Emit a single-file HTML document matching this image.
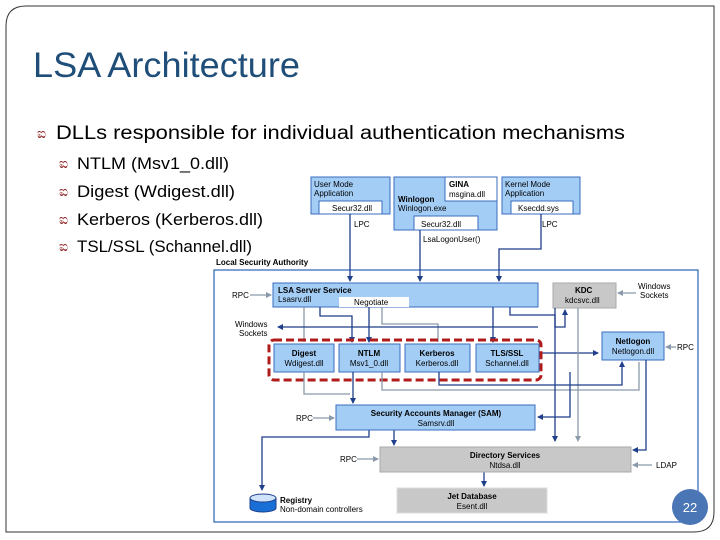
<!DOCTYPE html>
<html><head><meta charset="utf-8"><style>
html,body{margin:0;padding:0;background:#fff;}
body{width:720px;height:540px;overflow:hidden;position:relative;font-family:"Liberation Sans",sans-serif;}
</style></head><body>
<svg width="720" height="540" style="position:absolute;left:0;top:0" font-family="Liberation Sans, sans-serif">
<defs>
<marker id="ad" markerWidth="6" markerHeight="6" refX="5" refY="3" orient="auto" markerUnits="userSpaceOnUse"><path d="M0,0 L6,3 L0,6z" fill="#1f3f8a"/></marker>
<marker id="ag" markerWidth="6" markerHeight="6" refX="5" refY="3" orient="auto" markerUnits="userSpaceOnUse"><path d="M0,0 L6,3 L0,6z" fill="#8a9aaa"/></marker>
</defs>
<path d="M26,6 H714 V512 Q714,532 694,532 H6 V26 Q6,6 26,6Z" fill="none" stroke="#333" stroke-width="1"/>
<text x="33" y="77" font-size="35" fill="#1f4e79" textLength="267" lengthAdjust="spacingAndGlyphs">LSA Architecture</text>
<text x="56" y="139" font-size="19" fill="#000" textLength="569" lengthAdjust="spacingAndGlyphs">DLLs responsible for individual authentication mechanisms</text>
<g font-size="16.5" fill="#000">
<text x="77" y="169" textLength="152" lengthAdjust="spacingAndGlyphs">NTLM (Msv1_0.dll)</text>
<text x="77" y="197" textLength="158" lengthAdjust="spacingAndGlyphs">Digest (Wdigest.dll)</text>
<text x="77" y="225" textLength="186" lengthAdjust="spacingAndGlyphs">Kerberos (Kerberos.dll)</text>
<text x="77" y="252" textLength="175" lengthAdjust="spacingAndGlyphs">TSL/SSL (Schannel.dll)</text>
</g>
<g font-size="14" fill="#8b2020">
<text x="37" y="138">ಐ</text><text x="59" y="168">ಐ</text><text x="59" y="196">ಐ</text><text x="59" y="224">ಐ</text><text x="59" y="251">ಐ</text>
</g>
<g stroke="#3a6ebf" stroke-width="1" fill="#a3cdf5">
<rect x="311" y="177" width="79" height="37"/>
<rect x="394" y="177" width="103" height="53"/>
<rect x="502" y="177" width="78" height="37"/>
</g>
<g fill="#fff" stroke="#3a6ebf">
<rect x="319" y="201" width="63" height="13"/>
<rect x="445" y="177" width="52" height="24"/>
<rect x="414" y="216" width="64" height="14"/>
<rect x="511" y="201" width="62" height="13"/>
</g>
<g font-size="8" fill="#000">
<text x="314" y="187">User Mode</text><text x="314" y="196">Application</text>
<text x="332" y="211">Secur32.dll</text>
<text x="449" y="187" font-weight="bold">GINA</text><text x="449" y="197">msgina.dll</text>
<text x="398" y="202" font-weight="bold">Winlogon</text><text x="398" y="211">Winlogon.exe</text>
<text x="421" y="227">Secur32.dll</text>
<text x="505" y="187">Kernel Mode</text><text x="505" y="196">Application</text>
<text x="518" y="211">Ksecdd.sys</text>
<text x="354" y="227">LPC</text><text x="542" y="227">LPC</text>
<text x="423" y="242">LsaLogonUser()</text>
<text x="216" y="265" font-weight="bold">Local Security Authority</text>
</g>
<rect x="214" y="270" width="484" height="252" fill="none" stroke="#3a6ebf" stroke-width="1.3"/>
<g stroke="#1f3f8a" stroke-width="1.3" fill="none">
<path d="M350,214 V281" marker-end="url(#ad)"/>
<path d="M420,230 V281" marker-end="url(#ad)"/>
<path d="M541,214 V249 H499 V281" marker-end="url(#ad)"/>
</g>
<rect x="273" y="283" width="265" height="24" fill="#a3cdf5" stroke="#3a6ebf"/>
<rect x="339" y="297" width="70" height="10" fill="#fff"/>
<rect x="553" y="283" width="63" height="25" fill="#c8c8c8" stroke="#aaa"/>
<g font-size="8" fill="#000">
<text x="278" y="293" font-weight="bold">LSA Server Service</text>
<text x="278" y="302">Lsasrv.dll</text>
<text x="354" y="305">Negotiate</text>
<text x="575" y="293" font-weight="bold">KDC</text>
<text x="565" y="303">kdcsvc.dll</text>
<text x="638" y="289">Windows</text><text x="640" y="298">Sockets</text>
<text x="232" y="298">RPC</text>
<text x="235" y="327">Windows</text><text x="239" y="336">Sockets</text>
</g>
<g stroke="#8a9aaa" stroke-width="1.3" fill="none">
<path d="M250,295 H271" marker-end="url(#ag)"/>
<path d="M636,293 H618" marker-end="url(#ag)"/>
<path d="M304,307 V342"/>
<path d="M382,307 V324 H438 V342"/>
</g>
<g stroke="#1f3f8a" stroke-width="1.3" fill="none">
<path d="M538,327 H278" marker-end="url(#ad)"/>
<path d="M320,307 V316 H352 V342" marker-end="url(#ad)"/>
<path d="M369,307 V342" marker-end="url(#ad)"/>
<path d="M493,307 V342" marker-end="url(#ad)"/>
<path d="M510,307 V315 H555 V327 H565 V310" marker-end="url(#ad)"/>
<path d="M541,353 H598" marker-end="url(#ad)"/>
</g>
<g fill="#a3cdf5" stroke="#3a6ebf">
<rect x="274" y="344" width="60" height="28"/>
<rect x="339" y="344" width="61" height="28"/>
<rect x="405" y="344" width="65" height="28"/>
<rect x="476" y="344" width="63" height="28"/>
<rect x="602" y="332" width="62" height="28"/>
</g>
<rect x="269" y="340" width="272" height="40" rx="5" fill="none" stroke="#b01c1c" stroke-width="3" stroke-dasharray="8,4"/>
<g font-size="8" fill="#000" text-anchor="middle">
<text x="304" y="356" font-weight="bold">Digest</text><text x="304" y="366">Wdigest.dll</text>
<text x="369" y="356" font-weight="bold">NTLM</text><text x="369" y="366">Msv1_0.dll</text>
<text x="437" y="356" font-weight="bold">Kerberos</text><text x="437" y="366">Kerberos.dll</text>
<text x="507" y="356" font-weight="bold">TLS/SSL</text><text x="507" y="366">Schannel.dll</text>
<text x="633" y="344" font-weight="bold">Netlogon</text><text x="633" y="354">Netlogon.dll</text>
</g>
<text x="677" y="350" font-size="8">RPC</text>
<path d="M676,347 H666" stroke="#8a9aaa" stroke-width="1.3" marker-end="url(#ag)"/>
<g stroke="#8a9aaa" stroke-width="1.3" fill="none">
<path d="M304,372 V394 H350"/>
<path d="M382,372 V390 H639 V362"/>
<path d="M578,308 V441" marker-end="url(#ag)"/>
</g>
<g stroke="#1f3f8a" stroke-width="1.3" fill="none">
<path d="M353,372 V403" marker-end="url(#ad)"/>
<path d="M439,372 V385 H622 V362" marker-end="url(#ad)"/>
<path d="M555,308 V441" marker-end="url(#ad)"/>
<path d="M646,360 V450 H633" marker-end="url(#ad)"/>
<path d="M570,372 V417 H538" marker-end="url(#ad)"/>
<path d="M369,430 V437 H262 V490" marker-end="url(#ad)"/>
<path d="M394,430 V445" marker-end="url(#ad)"/>
<path d="M484,472 V486" marker-end="url(#ad)"/>
</g>
<rect x="336" y="405" width="199" height="25" fill="#a3cdf5" stroke="#3a6ebf"/>
<rect x="380" y="447" width="251" height="25" fill="#c8c8c8" stroke="#aaa"/>
<rect x="397" y="488" width="150" height="25" fill="#c8c8c8" stroke="#ddd"/>
<g font-size="8" fill="#000" text-anchor="middle">
<text x="436" y="416" font-weight="bold">Security Accounts Manager (SAM)</text><text x="436" y="426">Samsrv.dll</text>
<text x="505" y="458" font-weight="bold">Directory Services</text><text x="505" y="468">Ntdsa.dll</text>
<text x="472" y="499" font-weight="bold">Jet Database</text><text x="472" y="509">Esent.dll</text>
</g>
<g font-size="8" fill="#000">
<text x="296" y="421">RPC</text><text x="340" y="462">RPC</text><text x="656" y="468">LDAP</text>
<text x="280" y="503" font-weight="bold">Registry</text><text x="280" y="512">Non-domain controllers</text>
</g>
<g stroke="#8a9aaa" stroke-width="1.3" fill="none">
<path d="M313,418 H334" marker-end="url(#ag)"/>
<path d="M357,459 H378" marker-end="url(#ag)"/>
<path d="M652,465 H633" marker-end="url(#ag)"/>
</g>
<ellipse cx="263" cy="508" rx="13" ry="4" fill="#1a6fd6" stroke="#1f3f8a"/>
<rect x="250" y="498" width="26" height="10" fill="#1a6fd6"/>
<path d="M250,498 V508 M276,498 V508" stroke="#1f3f8a"/>
<ellipse cx="263" cy="498" rx="13" ry="4" fill="#cfe3fa" stroke="#1f3f8a"/>
<circle cx="690" cy="507" r="18" fill="#4a76b5"/>
<text x="690" y="512" font-size="13" fill="#fff" text-anchor="middle">22</text>
</svg>
</body></html>
